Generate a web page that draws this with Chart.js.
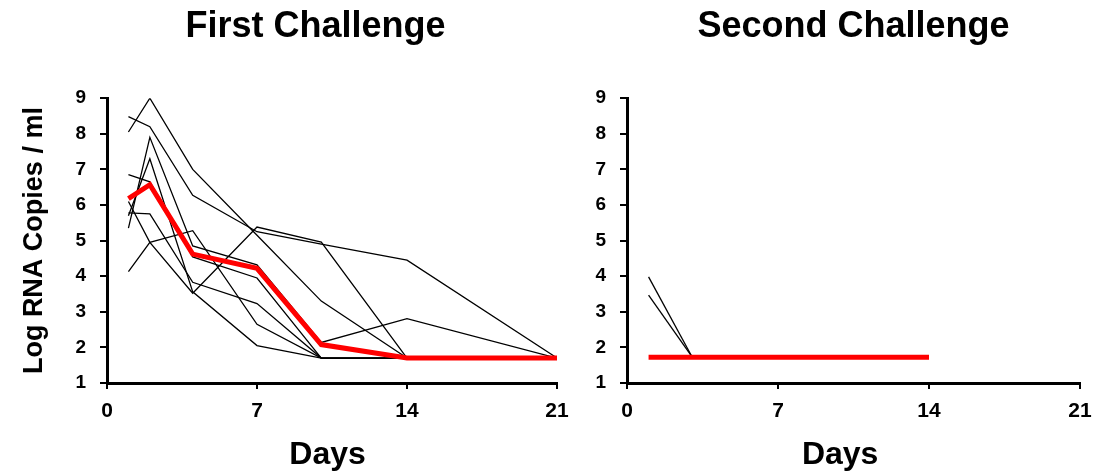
<!DOCTYPE html>
<html>
<head>
<meta charset="utf-8">
<script src="https://cdn.jsdelivr.net/npm/chart.js@4/dist/chart.umd.min.js"></script>
<style>
  body { margin: 0; background: #fff; overflow: hidden; }
  canvas { position: absolute; top: 0; }
</style>
</head>
<body>
<canvas id="chart-first" width="638" height="475" style="left:0"></canvas>
<canvas id="chart-second" width="535" height="475" style="left:575px"></canvas>
<script>
// sampling days
const days = [1, 2, 4, 7, 10, 14, 21];

// first challenge, one array per animal (log RNA copies / ml)
const animal1 = [8.05, 9.0, 7.0, 5.15, 3.3, 1.7, null];
const animal2 = [8.48, 8.2, 6.27, 5.25, 4.9, 4.45, 1.7];
const animal3 = [5.35, 7.9, 4.85, 4.32, 2.14, 2.81, 1.7];
const animal4 = [5.7, 7.3, 3.56, 2.05, 1.7, 1.7, null];
const animal5 = [5.78, 5.75, 3.83, 3.23, 1.7, 1.7, null];
const animal6 = [6.85, 6.65, 4.54, 3.95, 1.7, 1.7, null];
const animal7 = [6.1, 4.95, 3.52, 5.38, 4.96, 1.7, null];
const animal8 = [4.13, 4.95, 5.28, 2.65, 1.7, 1.7, null];
const meanFirst = [6.18, 6.57, 4.62, 4.22, 2.08, 1.7, 1.7];

// second challenge
const secondDays = [1, 3];
const secondAnimal1 = [3.98, 1.75];
const secondAnimal2 = [3.47, 1.75];
const secondMeanDays = [1, 14];
const secondMean = [1.72, 1.72];

const xTicks = [0, 7, 14, 21];
const yTicks = [1, 2, 3, 4, 5, 6, 7, 8, 9];

const FONT = "'Liberation Sans', Arial, sans-serif";

function toPoints(xs, ys) {
  return xs.map((x, i) => ({ x: x, y: ys[i] }));
}

function blackLine(xs, ys) {
  return {
    data: toPoints(xs, ys),
    borderColor: "#000",
    borderWidth: 1.3,
    pointRadius: 0,
    tension: 0,
    order: 1,
  };
}

function redLine(xs, ys) {
  return {
    data: toPoints(xs, ys),
    borderColor: "#ff0000",
    borderWidth: 5,
    pointRadius: 0,
    tension: 0,
    order: 0,
  };
}

// daysLabel carries trailing spaces so the visible word sits a bit left of centre, like the original
function buildOptions(titleText, yTitle, daysLabel, yWidth, padLeft, padRight, titleFull) {
  return {
    responsive: false,
    animation: false,
    layout: { padding: { left: padLeft, right: padRight, top: 0, bottom: 0 } },
    plugins: {
      legend: { display: false },
      tooltip: { enabled: false },
      title: {
        display: true,
        text: titleText,
        fullSize: titleFull,
        color: "#000",
        font: { family: FONT, size: 36, weight: "bold" },
        padding: { top: 5, bottom: 50 },
      },
    },
    scales: {
      x: {
        type: "linear",
        min: 0,
        max: 21,
        afterBuildTicks: (scale) => {
          scale.ticks = xTicks.map((v) => ({ value: v }));
        },
        afterFit: (scale) => {
          scale.height = 92;
        },
        border: { display: true, color: "#000", width: 3 },
        grid: { drawOnChartArea: false, drawTicks: true, tickLength: 6, color: "#000", lineWidth: 2 },
        ticks: {
          padding: 10,
          color: "#000",
          font: { family: FONT, size: 21, weight: "bold" },
        },
        title: {
          display: true,
          text: daysLabel,
          color: "#000",
          font: { family: FONT, size: 32, weight: "bold" },
          padding: { top: 0, bottom: 1 },
        },
      },
      y: {
        type: "linear",
        min: 1,
        max: 9,
        afterBuildTicks: (scale) => {
          scale.ticks = yTicks.map((v) => ({ value: v }));
        },
        afterFit: (scale) => {
          scale.width = yWidth;
        },
        border: { display: true, color: "#000", width: 3 },
        grid: { drawOnChartArea: false, drawTicks: true, tickLength: 7, color: "#000", lineWidth: 2 },
        ticks: {
          padding: 14,
          color: "#000",
          font: { family: FONT, size: 19, weight: "bold" },
        },
        title: {
          display: yTitle !== "",
          text: yTitle,
          color: "#000",
          font: { family: FONT, size: 27, weight: "bold" },
          padding: { top: -56, bottom: 0 },
        },
      },
    },
  };
}

// Chart 1 ---------------
var ctx1 = document.getElementById("chart-first").getContext("2d");
var chart1 = new Chart(ctx1, {
  type: "line",
  data: {
    datasets: [
      redLine(days, meanFirst),
      blackLine(days, animal1),
      blackLine(days, animal2),
      blackLine(days, animal3),
      blackLine(days, animal4),
      blackLine(days, animal5),
      blackLine(days, animal6),
      blackLine(days, animal7),
      blackLine(days, animal8),
    ],
  },
  options: buildOptions("First Challenge", "Log RNA Copies / ml", "Days ", 33, 74, 81, true),
});

// Chart 2 ---------------
var ctx2 = document.getElementById("chart-second").getContext("2d");
var chart2 = new Chart(ctx2, {
  type: "line",
  data: {
    datasets: [
      redLine(secondMeanDays, secondMean),
      blackLine(secondDays, secondAnimal1),
      blackLine(secondDays, secondAnimal2),
    ],
  },
  options: buildOptions("Second Challenge", "", "Days   ", 52, 0, 30, false),
});
</script>
</body>
</html>
